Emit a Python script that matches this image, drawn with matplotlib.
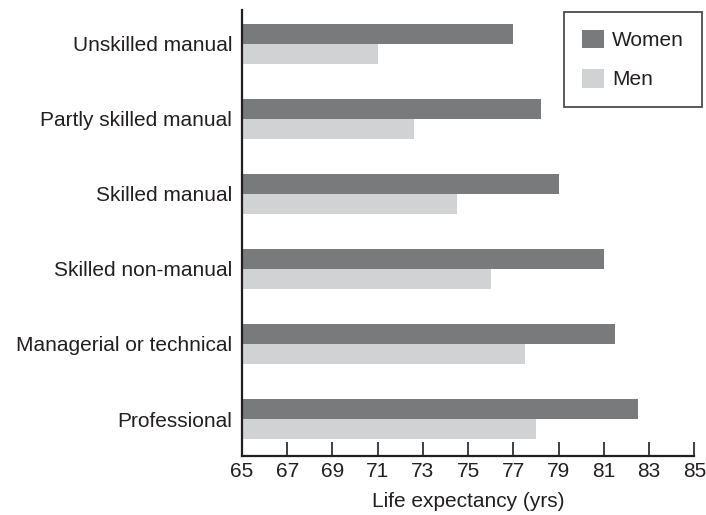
import matplotlib
matplotlib.use('Agg')
import matplotlib.pyplot as plt
import numpy as np

plt.rcParams['font.family'] = ['Liberation Sans', 'DejaVu Sans']

# datos
categorias = ['Unskilled manual', 'Partly skilled manual', 'Skilled manual',
              'Skilled non-manual', 'Managerial or technical', 'Professional']
mujeres = [77.0, 78.2, 79.0, 81.0, 81.5, 82.5]
hombres = [71.0, 72.6, 74.5, 76.0, 77.5, 78.0]
ticks_x = [65, 67, 69, 71, 73, 75, 77, 79, 81, 83, 85]

col_m = '#797a7c'
col_h = '#d1d2d4'
negro = '#231f20'

fig = plt.figure(figsize=(7.06, 5.15), dpi=100)
ax = fig.add_axes([0.3428, 0.1146, 0.6406, 0.866])

y = np.arange(len(categorias))
alto = 0.2667
ax.barh(y - alto / 2, [m - 65 for m in mujeres], height=alto, left=65, color=col_m, label='Women')
ax.barh(y + alto / 2, [h - 65 for h in hombres], height=alto, left=65, color=col_h, label='Men')

ax.set_xlim(65, 85)
ax.set_ylim(5.493, -0.453)
ax.set_xticks(ticks_x)
ax.set_xticklabels([str(t) for t in ticks_x], fontsize=15, color=negro)
ax.set_yticks(y)
ax.set_yticklabels(categorias, fontsize=15, color=negro)
ax.tick_params(axis='y', length=0, pad=7)
ax.tick_params(axis='x', direction='in', length=10, width=1.2, color=negro, pad=4)
ax.set_xlabel('Life expectancy (yrs)', fontsize=15, color=negro, labelpad=8)

for s in ['top', 'right']:
    ax.spines[s].set_visible(False)
for s in ['left', 'bottom']:
    ax.spines[s].set_color(negro)
    ax.spines[s].set_linewidth(1.6)

leg = fig.legend(loc='upper left', bbox_to_anchor=(564 / 706, 1 - 12 / 515), borderaxespad=0,
                 fontsize=15, fancybox=False, frameon=True, handlelength=1.05, handleheight=1.0,
                 handletextpad=0.4, borderpad=0.85, labelspacing=0.9)
leg.get_frame().set_edgecolor(negro)
leg.get_frame().set_linewidth(1.3)
for t in leg.get_texts():
    t.set_color(negro)

plt.savefig('out.png', dpi=100)
